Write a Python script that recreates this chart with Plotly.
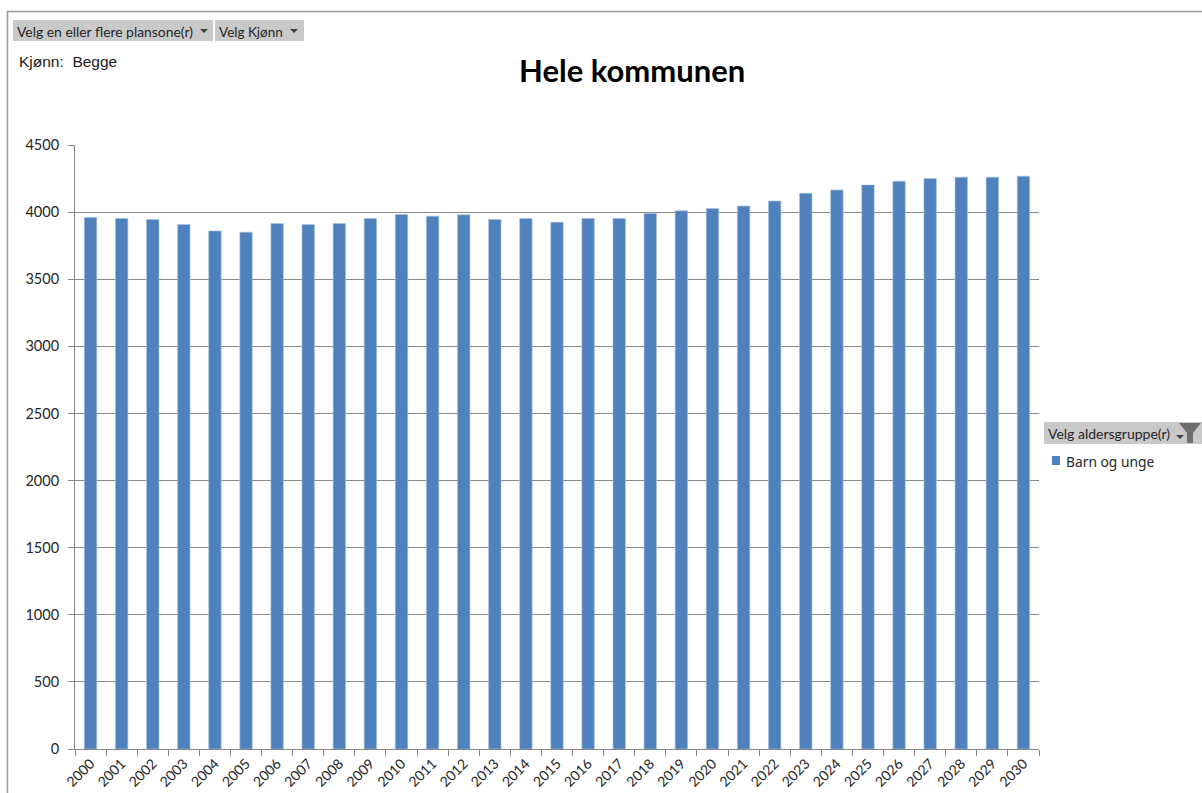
import plotly.graph_objects as go

years = [str(y) for y in range(2000, 2031)]
barn_og_unge = [3960, 3953, 3945, 3908, 3860, 3850, 3915, 3908, 3915, 3953, 3983,
                3970, 3980, 3945, 3953, 3925, 3953, 3953, 3990, 4010, 4027, 4045,
                4083, 4140, 4165, 4202, 4230, 4250, 4260, 4260, 4268]
y_ticks = [0, 500, 1000, 1500, 2000, 2500, 3000, 3500, 4000, 4500]

W, H = 1202, 793
L, R, T, B = 75, 163, 145, 44
AX = "#868686"
BLUE = "#4f81bd"
BTN = "#c9c9c9"
TXT = "#262626"
LATO = "Lato, Carlito, sans-serif"

def px(x): return (x - L) / (W - L - R)
def py(y): return 1 - (y - T) / (H - T - B)

fig = go.Figure(go.Bar(
    x=years, y=barn_og_unge, name="Barn og unge", width=0.4, showlegend=False,
    marker=dict(color=BLUE, line=dict(color="#a9c1df", width=0.6)),
))

def rect(x0, y0, x1, y1, fill):
    return dict(type="rect", xref="paper", yref="paper", x0=px(x0), x1=px(x1), y0=py(y0), y1=py(y1),
                fillcolor=fill, line=dict(width=0), layer="below")

shapes = [
    dict(type="line", xref="paper", yref="paper", x0=px(7.5), x1=px(7.5), y0=py(11), y1=py(793),
         line=dict(color="#9a9a9a", width=1.5)),
    dict(type="line", xref="paper", yref="paper", x0=px(7), x1=px(1202), y0=py(11.5), y1=py(11.5),
         line=dict(color="#9a9a9a", width=1.5)),
    rect(13, 20, 213, 41, BTN),
    rect(215, 20, 304, 41, BTN),
    rect(1044, 422, 1202, 444, BTN),
    rect(1052, 456, 1060, 465, BLUE),
]
# drop-down arrows
for cx, cy in [(204, 31), (294, 31), (1180, 437)]:
    shapes.append(dict(type="path", xref="paper", yref="paper",
                       path=f"M {px(cx-4)} {py(cy-2)} L {px(cx+4)} {py(cy-2)} L {px(cx)} {py(cy+2)} Z",
                       fillcolor="#404040", line=dict(width=0)))
# filter funnel
fx = [1179, 1201, 1193, 1193, 1187, 1187]
fy = [423, 423, 433, 443, 443, 433]
path = "M " + " L ".join(f"{px(a)} {py(b)}" for a, b in zip(fx, fy)) + " Z"
shapes.append(dict(type="path", xref="paper", yref="paper", path=path, fillcolor="#6e6e6e", line=dict(width=0)))

def note(x, y, text, size, family=LATO, color=TXT):
    return dict(xref="paper", yref="paper", x=px(x), y=py(y), xanchor="left", yanchor="middle",
                text=text, showarrow=False, xshift=-2,
                font=dict(family=family, size=size, color=color))

annotations = [
    note(17, 31.5, "Velg en eller flere plansone(r)", 13.9),
    note(219, 31.5, "Velg Kjønn", 13.5),
    note(1048, 433, "Velg aldersgruppe(r)", 14),
    note(1066, 461, "Barn og unge", 13.8, family="Noto Sans, sans-serif"),
    note(19, 62, "Kjønn:  Begge", 15.5, family="Liberation Sans, Arial, sans-serif", color="#1a1a1a"),
    dict(xref="paper", yref="paper", x=px(632), y=py(70), xanchor="center", yanchor="middle",
         text="<b>Hele kommunen</b>", showarrow=False,
         font=dict(family=LATO, size=31, color="#000000")),
]

fig.update_layout(
    width=W, height=H, autosize=False,
    margin=dict(l=L, r=R, t=T, b=B, pad=0),
    paper_bgcolor="white", plot_bgcolor="white",
    font=dict(family=LATO, size=14, color=TXT),
    shapes=shapes, annotations=annotations,
    showlegend=False,
    xaxis=dict(type="category", tickson="boundaries", tickangle=-45, ticks="outside", ticklen=6,
               tickcolor=AX, linecolor=AX, linewidth=1, showline=True, showgrid=False,
               tickfont=dict(family=LATO, size=14, color=TXT), automargin=False),
    yaxis=dict(range=[0, 4500], tickvals=y_ticks, ticks="outside", ticklen=6, tickcolor=AX,
               linecolor=AX, linewidth=1, showline=True, showgrid=True, gridcolor="#8a8a8a", gridwidth=1,
               zeroline=False, ticklabelstandoff=6,
               tickfont=dict(family=LATO, size=14.5, color=TXT), automargin=False),
)

fig.write_html("out.html", config=dict(displayModeBar=False),
               post_script="document.body.style.margin='0';document.body.style.overflow='hidden';")
